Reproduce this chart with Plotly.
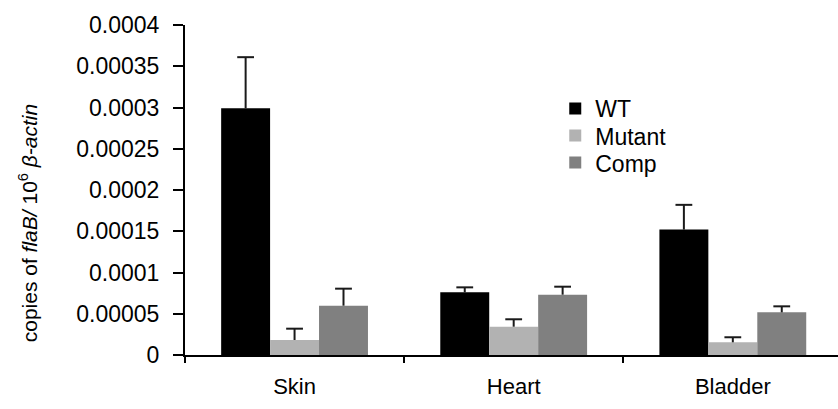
import plotly.graph_objects as go

categories = ["Skin", "Heart", "Bladder"]
series_names = ["WT", "Mutant", "Comp"]
wt_values = [0.000299, 0.000076, 0.000152]
wt_errors = [0.000062, 0.000006, 0.000030]
mutant_values = [0.0000182, 0.0000343, 0.0000154]
mutant_errors = [0.0000137, 0.0000090, 0.0000061]
comp_values = [0.0000598, 0.0000731, 0.0000517]
comp_errors = [0.0000206, 0.0000097, 0.0000073]
y_ticks = [0, 0.00005, 0.0001, 0.00015, 0.0002, 0.00025, 0.0003, 0.00035, 0.0004]
y_tick_labels = ["0", "0.00005", "0.0001", "0.00015", "0.0002", "0.00025", "0.0003", "0.00035", "0.0004"]
y_title = "copies of <i>flaB/</i> 10<sup>6</sup> <i>β-actin</i>"

colors = ["#000000", "#b2b2b2", "#808080"]
values = [wt_values, mutant_values, comp_values]
errors = [wt_errors, mutant_errors, comp_errors]

x_pos = list(range(len(categories)))
FONT = "Liberation Sans, Arial, sans-serif"
BARGAP = 0.33
n_series = len(series_names)
bar_w = (1 - BARGAP) / n_series
legend_ys = [0.812, 0.730, 0.648]
legend_ids = ["legend", "legend2", "legend3"]

fig = go.Figure()
for i, (name, vals, errs, col) in enumerate(zip(series_names, values, errors, colors)):
    fig.add_trace(go.Bar(
        x=x_pos, y=vals, name=name, legend=legend_ids[i],
        marker=dict(color=col, line=dict(width=0)),
    ))
for i, (vals, errs) in enumerate(zip(values, errors)):
    off = (i - (n_series - 1) / 2) * bar_w
    tops = [v + e for v, e in zip(vals, errs)]
    fig.add_trace(go.Scatter(
        x=[x + off for x in x_pos], y=tops, mode="markers",
        marker=dict(symbol="line-ew", size=12, color="#1a1a1a",
                    line=dict(width=2, color="#1a1a1a")),
        error_y=dict(type="data", symmetric=False, array=[0] * len(errs),
                     arrayminus=errs, color="#1a1a1a", thickness=2, width=0),
        showlegend=False, hoverinfo="skip",
    ))

# invisible trace to carry category labels on a second x axis
fig.add_trace(go.Scatter(x=x_pos, y=[0] * len(x_pos), xaxis="x2",
                         mode="markers", marker=dict(opacity=0),
                         showlegend=False, hoverinfo="skip"))

legend_common = dict(x=0.567, xanchor="left", yanchor="top",
                     bgcolor="rgba(0,0,0,0)", font=dict(size=23))
layout_legends = {lid: dict(legend_common, y=ly) for lid, ly in zip(legend_ids, legend_ys)}

fig.update_layout(
    width=838, height=409,
    margin=dict(l=185, r=0, t=25, b=54),
    paper_bgcolor="white", plot_bgcolor="white",
    barmode="group", bargap=BARGAP, bargroupgap=0,
    font=dict(family=FONT, size=22, color="black"),
    showlegend=True,
    **layout_legends,
    xaxis=dict(range=[-0.5, 2.48], tickmode="array",
               tickvals=[-0.5, 0.5, 1.5], ticktext=["", "", ""],
               ticks="outside", ticklen=6, tickwidth=2, tickcolor="black",
               showline=True, linecolor="black", linewidth=2,
               showgrid=False, zeroline=False),
    xaxis2=dict(range=[-0.5, 2.48], overlaying="x", side="bottom",
                tickmode="array", tickvals=x_pos, ticktext=categories,
                ticks="", showline=False, showgrid=False, zeroline=False,
                tickfont=dict(size=22), ticklabelstandoff=16),
    yaxis=dict(range=[0, 0.0004], tickmode="array", tickvals=y_ticks,
               ticktext=y_tick_labels, ticks="outside", ticklen=10,
               tickwidth=2, tickcolor="black", showline=True,
               linecolor="black", linewidth=2, showgrid=False,
               zeroline=False, tickfont=dict(size=23), ticklabelstandoff=9),
    annotations=[dict(text=y_title, textangle=-90, xref="paper", yref="paper",
                      x=-0.24, y=0.40, xanchor="center", yanchor="middle",
                      showarrow=False, font=dict(size=21))],
)

fig.write_html("out.html")
